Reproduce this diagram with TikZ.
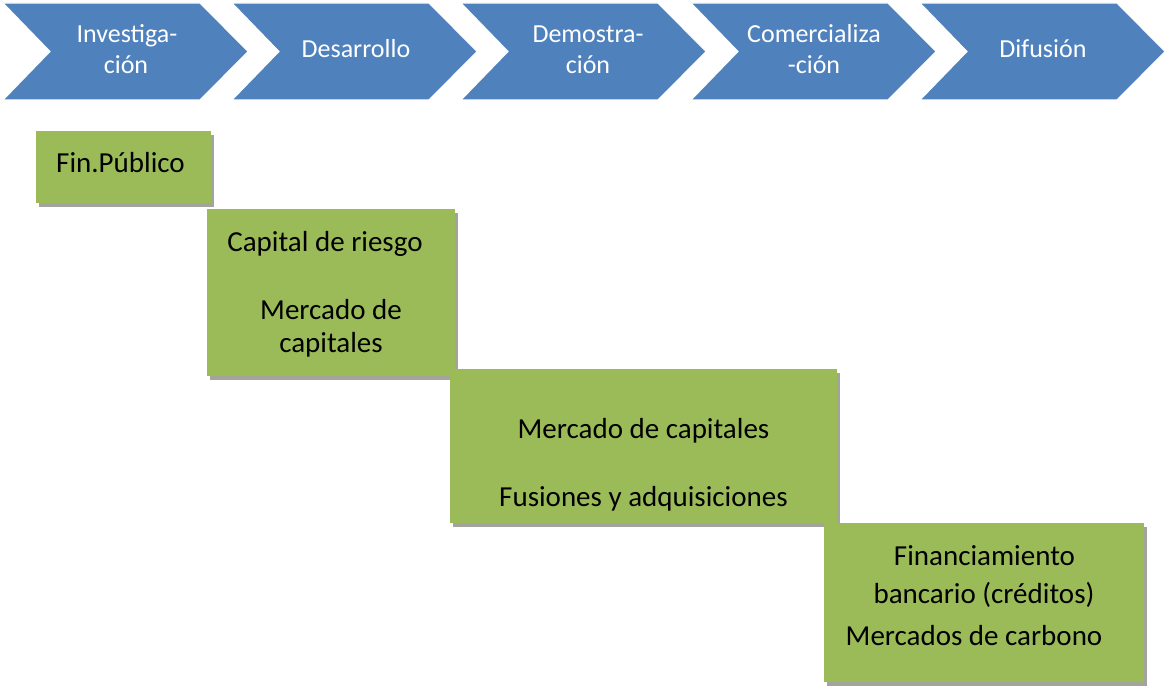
\documentclass[tikz,border=0pt]{standalone}
\usepackage{fontspec}
\setmainfont{Carlito}
\definecolor{chev}{HTML}{4F81BD}
\definecolor{grn}{HTML}{9BBB59}
\definecolor{shd}{HTML}{A3A59C}
\begin{document}
\begin{tikzpicture}[x=0.75pt,y=-0.75pt,
  chevron/.style={fill=chev, draw=white, line width=0.8pt, line join=miter},
  ctext/.style={text=white, font=\fontsize{19.5}{23}\selectfont, inner sep=0pt, anchor=base},
  gbox/.style={fill=grn, draw=none},
  gshadow/.style={fill=shd, draw=none},
  gtext/.style={text=black, font=\fontsize{21.75}{26}\selectfont, inner sep=0pt, anchor=base}]
\useasboundingbox (0,0) rectangle (1165,688);

% chevrons
\foreach \i/\L in {1/3,2/232,3/461,4/691,5/920}{
  \draw[chevron] (\L,3) -- ++(197,0) -- ++(48,48.5) -- ++(-48,48.5) -- ++(-197,0) -- ++(47,-48.5) -- cycle;
}
\node[ctext] (inv1) at (127,43) {Investiga-};
\node[ctext] (inv2) at (126,74) {ción};
\node[ctext] (des) at (356,58) {Desarrollo};
\node[ctext] (dem1) at (588,43) {Demostra-};
\node[ctext] (dem2) at (588,74) {ción};
\node[ctext] (com1) at (814,43) {Comercializa};
\node[ctext] (com2) at (814,74) {-ción};
\node[ctext] (dif) at (1043,58) {Difusión};

% green boxes with shadows
\fill[gshadow] (39,135) rectangle (214,207);
\fill[gbox] (36,131) rectangle (211,203);
\fill[gshadow] (210,213) rectangle (458,380);
\fill[gbox] (207,209) rectangle (455,376);
\fill[gshadow] (453,373) rectangle (840,527);
\fill[gbox] (450,369) rectangle (837,523);
\fill[gshadow] (827,527) rectangle (1147,686);
\fill[gbox] (824,523) rectangle (1144,682);

\node[gtext] (fin) at (120.5,173) {Fin.Público};
\node[gtext] (cap) at (325,252) {Capital de riesgo};
\node[gtext] (mc1) at (331,320) {Mercado de};
\node[gtext] (mc2) at (331,353) {capitales};
\node[gtext] (mc3) at (643.5,438) {Mercado de capitales};
\node[gtext] (fus) at (643.5,506) {Fusiones y adquisiciones};
\node[gtext] (fb1) at (984.5,565) {Financiamiento};
\node[gtext] (fb2) at (984,603) {bancario (créditos)};
\node[gtext] (car) at (974,645) {Mercados de carbono};
\end{tikzpicture}
\end{document}
